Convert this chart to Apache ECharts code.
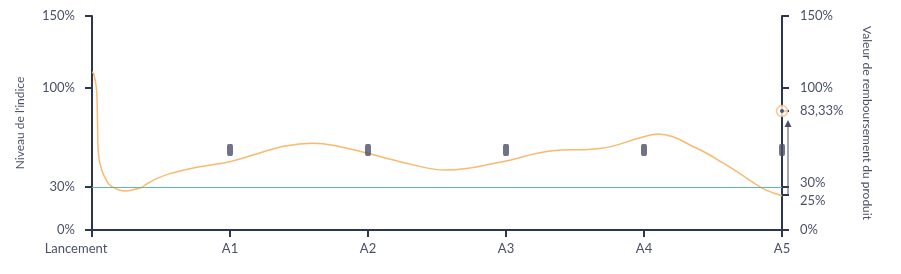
<!DOCTYPE html>
<html><head><meta charset="utf-8">
<script src="https://cdn.jsdelivr.net/npm/echarts@6/dist/echarts.min.js"></script>
<style>html,body{margin:0;padding:0;background:#fff}#c{width:901px;height:274px}</style>
</head><body><div id="c"></div>
<script>
// Data
const categories = ['Lancement','A1','A2','A3','A4','A5'];
const curveX = [0.002,0.014,0.033,0.040,0.045,0.070,0.119,0.152,0.191,0.239,0.312,0.362,0.384,0.457,0.565,0.783,0.998,1.193,1.399,1.601,1.797,1.971,2.232,2.572,2.957,3.319,3.681,3.993,4.101,4.210,4.333,4.454,4.575,4.696,4.804,4.889,5.0];
const curveY = [111,109,98,75,55,42,32.5,30,28.2,27.3,28.5,30,31.5,35.5,39.5,44.4,47.9,53.3,58.9,60.8,58.4,54.5,47.9,42,47.5,55.4,57.1,65.2,67.3,65.4,59.6,53.8,46.8,39.5,32.5,27.8,24];
const observationX = [1,2,3,4,5];
const observationY = [56,56,56,56,56];
const barrier = 30;
const redemption = 83.33;
const finalLevel = 25;
const leftTicks = [0,30,100,150];
const rightTicks = [0,25,30,83.33,100,150];

const AX = '#2c3652', TXT = '#4b5068', ORANGE = '#f9b96e', GREEN = '#5dbb9f';
const fmt = v => (Math.round(v*100)/100).toString().replace('.', ',') + '%';
const fmtRight = v => v === barrier ? '{up|' + fmt(v) + '}' : (v === finalLevel ? '{dn|' + fmt(v) + '}' : fmt(v));

const chart = echarts.init(document.getElementById('c'));
chart.setOption({
  animation:false,
  textStyle:{fontFamily:'Lato'},
  grid:{left:92,right:119,top:16,bottom:44},
  xAxis:{type:'value',min:0,max:5,interval:1,
    axisLine:{lineStyle:{color:AX,width:2}},
    axisTick:{length:7,lineStyle:{color:AX,width:2}},
    splitLine:{show:false},
    axisLabel:{color:TXT,fontSize:13,margin:12,
      formatter:v=> v===0 ? '{f|'+categories[0]+'}' : categories[Math.round(v)],
      rich:{f:{color:TXT,fontSize:13,fontFamily:'Lato',padding:[0,32,0,0]}}}},
  yAxis:[
    {type:'value',min:0,max:150,position:'left',
      name:"Niveau de l'indice",nameLocation:'middle',nameRotate:90,nameGap:66,
      nameTextStyle:{color:TXT,fontSize:12},
      axisLine:{show:true,lineStyle:{color:AX,width:2}},
      axisTick:{show:true,length:7,customValues:leftTicks,lineStyle:{color:AX,width:2}},
      splitLine:{show:false},
      axisLabel:{color:TXT,fontSize:13,margin:17,customValues:leftTicks,formatter:fmt}},
    {type:'value',min:0,max:150,position:'right',
      name:'Valeur de remboursement du produit',nameLocation:'middle',nameRotate:-90,nameGap:79,
      nameTextStyle:{color:TXT,fontSize:12},
      axisLine:{show:true,lineStyle:{color:AX,width:2}},
      axisTick:{show:true,length:7,customValues:rightTicks,lineStyle:{color:AX,width:2}},
      splitLine:{show:false},
      axisLabel:{color:TXT,fontSize:13,margin:18,customValues:rightTicks,formatter:fmtRight,
        rich:{up:{color:TXT,fontSize:13,fontFamily:'Lato',padding:[0,0,8,0]},
              dn:{color:TXT,fontSize:13,fontFamily:'Lato',padding:[12,0,0,0]}}}}
  ],
  series:[
    {type:'line',data:curveX.map((x,i)=>[x,curveY[i]]),smooth:0.4,showSymbol:false,
      lineStyle:{color:ORANGE,width:1.5},z:3,
      markLine:{silent:true,symbol:['none','none'],label:{show:false},
        lineStyle:{color:GREEN,width:1,type:'solid'},data:[{yAxis:barrier}]}},
    {type:'scatter',data:observationX.map((x,i)=>[x,observationY[i]]),symbol:'roundRect',
      symbolSize:[6,12],itemStyle:{color:TXT},z:4},
    {type:'custom',coordinateSystem:'cartesian2d',z:5,
      data:[[5,finalLevel,redemption]],
      renderItem:(params,api)=>{
        const p0=api.coord([api.value(0),api.value(1)]);
        const p1=api.coord([api.value(0),api.value(2)]);
        const x=p0[0]+6, yb=p0[1], yt=p1[1]+9;
        return {type:'group',children:[
          {type:'line',shape:{x1:x,y1:yb,x2:x,y2:yt+6},style:{stroke:TXT,lineWidth:1}},
          {type:'polygon',shape:{points:[[x,yt],[x-3.5,yt+7],[x+3.5,yt+7]]},style:{fill:TXT}}
        ]};
      }},
    {type:'scatter',data:[[5,redemption]],symbol:'circle',symbolSize:11,
      itemStyle:{color:'#fff',borderColor:ORANGE,borderWidth:1.5},z:6},
    {type:'scatter',data:[[5,redemption]],symbol:'circle',symbolSize:4,
      itemStyle:{color:AX},z:7}
  ]
});
</script></body></html>
